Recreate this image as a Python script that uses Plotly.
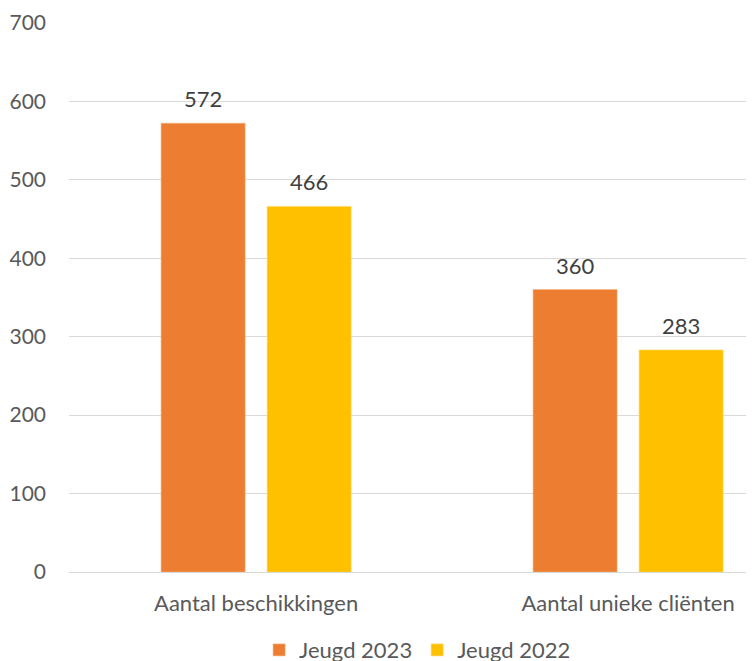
import plotly.graph_objects as go

categories = ["Aantal beschikkingen", "Aantal unieke cliënten"]
jeugd_2023 = [572, 360]
jeugd_2022 = [466, 283]
y_ticks = [0, 100, 200, 300, 400, 500, 600, 700]

font_family = "Lato, 'Open Sans', sans-serif"
bargap = 0.43
bargroupgap = 0.2075
series = [("Jeugd 2023", jeugd_2023, "#ED7D31", "#F4B183"),
          ("Jeugd 2022", jeugd_2022, "#FFC000", "#FFD966")]

fig = go.Figure()
for name, vals, col, edge in series:
    fig.add_trace(go.Bar(
        name=name, x=categories, y=vals,
        marker=dict(color=col, line=dict(color=edge, width=0.6)),
    ))

# data labels above bars, positioned from grouped-bar geometry
slot = (1 - bargap) / len(series)
for k, (name, vals, col, edge) in enumerate(series):
    offset = -(1 - bargap) / 2 + slot * (k + 0.5)
    for i, v in enumerate(vals):
        fig.add_annotation(x=i + offset, y=v, xref="x", yref="y", text=str(v),
                           showarrow=False, yanchor="bottom", yshift=9,
                           font=dict(size=22, color="#404040", family=font_family))

fig.update_layout(
    width=754, height=661,
    paper_bgcolor="white", plot_bgcolor="white",
    margin=dict(l=61, r=0, t=14, b=97, autoexpand=False),
    barmode="group", bargap=bargap, bargroupgap=bargroupgap,
    font=dict(family=font_family, color="#595959", size=20),
    showlegend=True,
    legend=dict(orientation="h", x=0.503, xanchor="center", y=-0.142, yanchor="middle",
                font=dict(size=22, color="#595959"), itemwidth=30,
                traceorder="normal"),
    xaxis=dict(range=[-0.503, 1.360], showline=True, linecolor="#D9D9D9", linewidth=1,
               showgrid=False, ticks="", ticklabelstandoff=12, automargin=False,
               tickfont=dict(size=22, color="#595959")),
    yaxis=dict(range=[0, 701], tickvals=y_ticks, showgrid=True, gridcolor="#D9D9D9",
               gridwidth=1, zeroline=False, showline=False, ticks="", automargin=False,
               ticklabelstandoff=22, tickfont=dict(size=21, color="#595959")),
)

fig.write_html("out.html")
